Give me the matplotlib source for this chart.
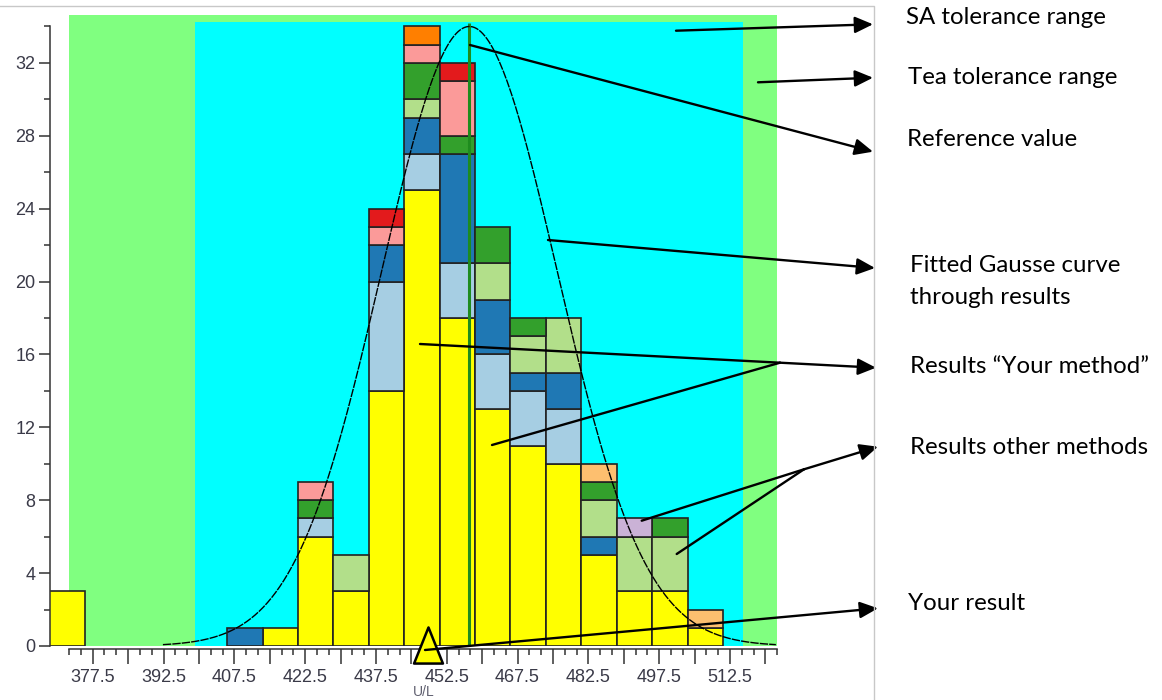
import numpy as np
import matplotlib
matplotlib.use('Agg')
from matplotlib import pyplot as plt
from matplotlib.lines import Line2D
from matplotlib.path import Path
from matplotlib.ticker import FixedLocator, MultipleLocator

# histogram bins (left edges, width 7.5 U/L)
bin_left = [406, 413.5, 421, 428.5, 436, 443.5, 451, 458.5, 466, 473.5, 481, 488.5, 496, 503.5]
bin_width = 7.5

# stacked counts per bin, bottom to top
your_method = [0, 1, 6, 3, 14, 25, 18, 13, 11, 10, 5, 3, 3, 1]
method_1 = [0, 0, 1, 0, 6, 2, 3, 3, 3, 3, 0, 0, 0, 0]
method_2 = [1, 0, 0, 0, 2, 2, 6, 3, 1, 2, 1, 0, 0, 0]
method_3 = [0, 0, 0, 2, 0, 1, 0, 2, 2, 3, 2, 3, 3, 0]
method_4 = [0, 0, 1, 0, 0, 2, 1, 2, 1, 0, 1, 0, 1, 0]
method_5 = [0, 0, 1, 0, 1, 1, 3, 0, 0, 0, 0, 0, 0, 0]
method_6 = [0, 0, 0, 0, 1, 0, 1, 0, 0, 0, 0, 0, 0, 0]
method_7 = [0, 0, 0, 0, 0, 0, 0, 0, 0, 0, 1, 0, 0, 1]
method_8 = [0, 0, 0, 0, 0, 1, 0, 0, 0, 0, 0, 0, 0, 0]
method_9 = [0, 0, 0, 0, 0, 0, 0, 0, 0, 0, 0, 1, 0, 0]
series = [your_method, method_1, method_2, method_3, method_4,
          method_5, method_6, method_7, method_8, method_9]
colors = ['#FFFF00', '#A6CEE3', '#1F78B4', '#B2DF8A', '#33A02C',
          '#FB9A99', '#E31A1C', '#FDBF6F', '#FF7F00', '#CAB2D6']

# results below the displayed range
below_range_count = 3

# reference value, tolerance ranges, fitted curve
reference_value = 457.3
sa_range = (399.2, 515.3)
tea_range = (372.5, 522.5)
gauss_mean, gauss_sd, gauss_peak = 457.3, 18.55, 34.0
your_result = 448.5

W, H = 1162, 700
fig = plt.figure(figsize=(W / 100, H / 100), dpi=100)
ax = fig.add_axes([49.5 / W, 54 / H, 727.7 / W, 631 / H])
ax.set_xlim(368.35, 522.5)
ax.set_ylim(0, 34.63)

# tolerance backgrounds
ax.axvspan(*tea_range, color='#80FF80', lw=0, zorder=0)
ax.fill_between(sa_range, 0, 34.27, color='#00FFFF', lw=0, zorder=0.5)

# stacked bars
x = np.array(bin_left)
bottom = np.zeros(len(bin_left))
for vals, col in zip(series, colors):
    v = np.array(vals, dtype=float)
    m = v > 0
    ax.bar(x[m], v[m], width=bin_width, bottom=bottom[m], align='edge',
           color=col, edgecolor='#222222', linewidth=1.2, zorder=2)
    bottom += v

ax.bar(368.35, below_range_count, width=bin_width, align='edge',
       color=colors[0], edgecolor='#222222', linewidth=1.2, zorder=2)

# fitted curve
gx = np.linspace(gauss_mean - 3.5 * gauss_sd, gauss_mean + 3.5 * gauss_sd, 300)
gy = gauss_peak * np.exp(-0.5 * ((gx - gauss_mean) / gauss_sd) ** 2)
ax.plot(gx, gy, color='black', lw=1.0, dashes=(6, 0.8), zorder=4)

# reference value line
ax.vlines(reference_value, 0, 34.2, color='#1E8C1E', lw=2.2, zorder=3)

# your result marker (closed triangle, taller than wide)
tri = Path([(0, 0.5), (-0.4, -0.5), (0.4, -0.5), (0, 0.5)],
           [Path.MOVETO, Path.LINETO, Path.LINETO, Path.CLOSEPOLY])
ax.plot([your_result], [0.05], marker=tri, markersize=26, markerfacecolor='#FFFF00',
        markeredgecolor='black', markeredgewidth=1.8, linestyle='none',
        clip_on=False, zorder=6)

# axes styling
tick_col = '#333333'
for s in ['top', 'right']:
    ax.spines[s].set_visible(False)
ax.spines['left'].set_bounds(0, 34)
ax.spines['bottom'].set_bounds(*tea_range)
ax.spines['bottom'].set_position(('outward', 2.4))
for s in ['left', 'bottom']:
    ax.spines[s].set_color(tick_col)
    ax.spines[s].set_linewidth(1.1)

ax.yaxis.set_major_locator(MultipleLocator(4))
ax.yaxis.set_minor_locator(FixedLocator(np.arange(2, 35, 4)))
xmajor = np.arange(377.5, 522, 7.5)
ax.xaxis.set_major_locator(FixedLocator(xmajor))
ax.xaxis.set_minor_locator(FixedLocator(np.arange(372.5, 523, 2.5)))
ax.set_xticklabels([f'{v:.1f}' if i % 2 == 0 else '' for i, v in enumerate(xmajor)])
ax.tick_params(which='both', width=1.1, color=tick_col)
ax.tick_params(axis='x', which='major', length=10.5, labelsize=13,
               labelcolor='#3a3a48', pad=3.5)
ax.tick_params(axis='y', which='major', length=8, labelsize=13,
               labelcolor='#3a3a48', pad=2)
ax.tick_params(which='minor', length=4.3)
for lab in ax.get_xticklabels() + ax.get_yticklabels():
    lab.set_family('Liberation Sans')

fig.text(424 / W, 1 - 692 / H, 'U/L', ha='center', va='center', fontsize=10,
         color='#606070', family='Liberation Sans')

# frame of the chart picture
fig.add_artist(Line2D([0, 874 / W, 874 / W], [1 - 6 / H, 1 - 6 / H, 0],
                      color='#c8c8c8', lw=1))


def fxy(px, py):
    return (px / W, 1 - py / H)


def arrow(p0, p1, head=True):
    style = '-|>,head_length=1.1,head_width=0.5' if head else '-'
    ax.annotate('', xy=fxy(*p1), xycoords='figure fraction',
                xytext=fxy(*p0), textcoords='figure fraction',
                arrowprops=dict(arrowstyle=style, color='black', lw=1.7,
                                shrinkA=0, shrinkB=0, mutation_scale=10),
                annotation_clip=False, zorder=10)


arrow((676, 30.7), (873, 24.3))
arrow((758, 82.3), (873, 77.7))
arrow((470, 45), (873, 151.7))
arrow((548, 240), (875, 268))
arrow((420, 344), (780, 362.7), head=False)
arrow((492, 445), (780, 362.7), head=False)
arrow((780, 362.7), (876, 367.7))
arrow((641.7, 520.7), (804, 469.3), head=False)
arrow((676.7, 554), (804, 469.3), head=False)
arrow((804, 469.3), (878, 446.7))
arrow((425, 650), (878, 608.3))

labels = [(906, 17, 'SA tolerance range'),
          (908, 77, 'Tea tolerance range'),
          (907, 140, 'Reference value'),
          (910, 266, 'Fitted Gausse curve'),
          (910, 297, 'through results'),
          (910, 367, 'Results \u201cYour method\u201d'),
          (910, 447, 'Results other methods'),
          (908, 603, 'Your result')]
for px, py, t in labels:
    fig.text(px / W, 1 - py / H, t, ha='left', va='center', fontsize=17.3,
             family='Lato', color='black')

fig.savefig('out.png', dpi=100)
